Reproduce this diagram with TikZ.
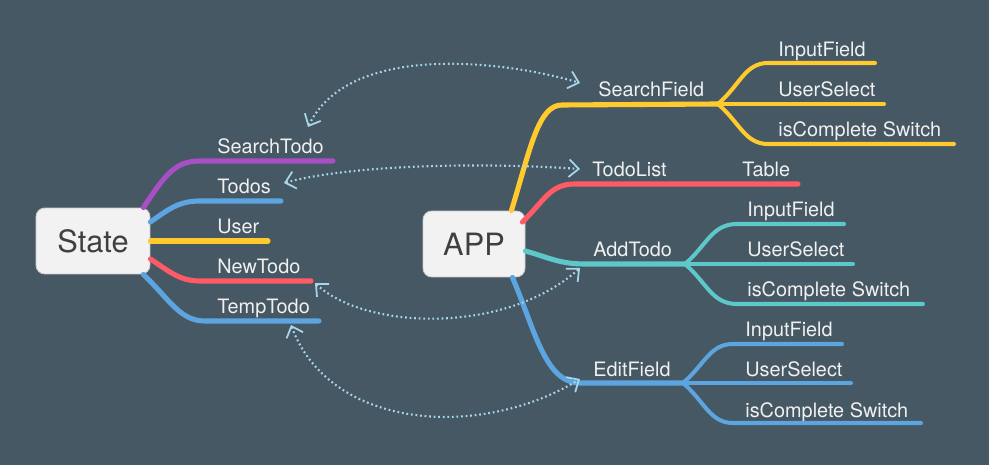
\documentclass[tikz,border=0pt]{standalone}
\usepackage{fontspec}
\setmainfont{TeX Gyre Heros}
\usetikzlibrary{arrows.meta}
\definecolor{bgslate}{HTML}{465863}
\definecolor{mmpurple}{HTML}{A84FC6}
\definecolor{mmblue}{HTML}{5CA5E0}
\definecolor{mmyellow}{HTML}{FFCA2E}
\definecolor{mmred}{HTML}{FF5B66}
\definecolor{mmteal}{HTML}{5CC8C9}
\definecolor{linkblue}{HTML}{A9D6EC}
\begin{document}
\begin{tikzpicture}[x=0.02cm, y=-0.02cm,
    rootbox/.style={fill=black!5, draw=black!20, line width=0.5pt, rounded corners=5pt,
        minimum width=2.28cm, minimum height=1.32cm, inner sep=0pt,
        font=\fontsize{17.5}{20}\selectfont, text=black!75},
    leaf/.style={anchor=base west, inner sep=0pt, text=white!94!black,
        font=\fontsize{11.3}{13}\selectfont},
    branch/.style={line width=2.9pt, line cap=round},
    twig/.style={line width=2.3pt, line cap=round},
    link/.style={linkblue, line width=1.2pt, dash pattern=on 1pt off 1.6pt,
        {Straight Barb[length=5.5pt, width=10pt, line width=1pt]}-{Straight Barb[length=5.5pt, width=10pt, line width=1pt]}}
]
\useasboundingbox[fill=bgslate] (0,0) rectangle (989,465);
% --- Wurzelknoten ---
\node[rootbox, minimum width=2.28cm] (state) at (93,241) {State};
\node[rootbox, minimum width=2.04cm] (app) at (474,244) {APP};
% --- State: Aeste ---
\node[leaf] (searchTodo) at (217,154) {SearchTodo};
\node[leaf] (todos) at (217,194) {Todos};
\node[leaf] (user) at (217,234) {User};
\node[leaf] (newTodo) at (217,274) {NewTodo};
\node[leaf] (tempTodo) at (217,314) {TempTodo};
\draw[branch, mmpurple] (state.north east) ++(-7,0) .. controls (165,175) and (175,161) .. (200,161) -- (333,161);
\draw[branch, mmblue] (state.east) ++(0,-19) .. controls (170,208) and (180,201) .. (200,201) -- (281,201);
\draw[branch, mmyellow] (state.east) -- (268,241);
\draw[branch, mmred] (state.east) ++(0,18) .. controls (170,272) and (180,281) .. (200,281) -- (311,281);
\draw[branch, mmblue] (state.south east) ++(-7,0) .. controls (170,300) and (180,321) .. (205,321) -- (319,321);
% --- APP: Aeste ---
\node[leaf] (searchField) at (598,97) {SearchField};
\node[leaf] (todoList) at (592,177) {TodoList};
\node[leaf] (addTodo) at (593,257) {AddTodo};
\node[leaf] (editField) at (593,377) {EditField};
\node[leaf] (table) at (742,177) {Table};
\coordinate (sfFork) at (718,104);
\coordinate (atFork) at (685,264);
\coordinate (efFork) at (683,383);
\draw[branch, mmyellow] (app.north east) ++(-14,0) .. controls (530,150) and (538,105) .. (562,105) -- (sfFork);
\draw[branch, mmred] (app.east) ++(-3,-22) .. controls (545,200) and (550,184) .. (575,184) -- (798,184);
\draw[branch, mmteal] (app.east) ++(0,7) .. controls (550,258) and (560,264) .. (585,264) -- (atFork);
\draw[branch, mmblue] (app.south east) ++(-13,0) .. controls (535,330) and (545,383) .. (580,383) -- (efFork);
% --- SearchField: Unterpunkte ---
\node[leaf] (sfInput) at (778,57) {InputField};
\node[leaf] (sfUser) at (778,97) {UserSelect};
\node[leaf] (sfSwitch) at (778,137) {isComplete Switch};
\draw[twig, mmyellow] (sfFork) .. controls (740,85) and (745,63) .. (768,63) -- (875,63);
\draw[twig, mmyellow] (sfFork) -- (884,104);
\draw[twig, mmyellow] (sfFork) .. controls (740,123) and (745,144) .. (768,144) -- (954,144);
% --- AddTodo: Unterpunkte ---
\node[leaf] (atInput) at (747,217) {InputField};
\node[leaf] (atUser) at (747,257) {UserSelect};
\node[leaf] (atSwitch) at (747,297) {isComplete Switch};
\draw[twig, mmteal] (atFork) .. controls (707,245) and (712,224) .. (737,224) -- (844,224);
\draw[twig, mmteal] (atFork) -- (853,264);
\draw[twig, mmteal] (atFork) .. controls (707,283) and (712,304) .. (737,304) -- (923,304);
% --- EditField: Unterpunkte ---
\node[leaf] (efInput) at (745,337) {InputField};
\node[leaf] (efUser) at (745,377) {UserSelect};
\node[leaf] (efSwitch) at (745,417) {isComplete Switch};
\draw[twig, mmblue] (efFork) .. controls (705,364) and (710,344) .. (733,344) -- (842,344);
\draw[twig, mmblue] (efFork) -- (851,383);
\draw[twig, mmblue] (efFork) .. controls (705,402) and (710,423) .. (733,423) -- (921,423);
% --- Verknuepfungen State <-> APP ---
\coordinate (lkA1) at (308,127); \coordinate (lkA2) at (580,83);
\coordinate (lkB1) at (284,183); \coordinate (lkB2) at (580,169);
\coordinate (lkC1) at (315,283); \coordinate (lkC2) at (580,268);
\coordinate (lkD1) at (291,325); \coordinate (lkD2) at (580,379);
\draw[link] (lkA1) .. controls (350,40) and (510,62) .. (lkA2);
\draw[link] (lkB1) .. controls (350,165) and (480,162) .. (lkB2);
\draw[link] (lkC1) .. controls (365,330) and (505,335) .. (lkC2);
\draw[link] (lkD1) .. controls (330,430) and (480,440) .. (lkD2);
\end{tikzpicture}
\end{document}
